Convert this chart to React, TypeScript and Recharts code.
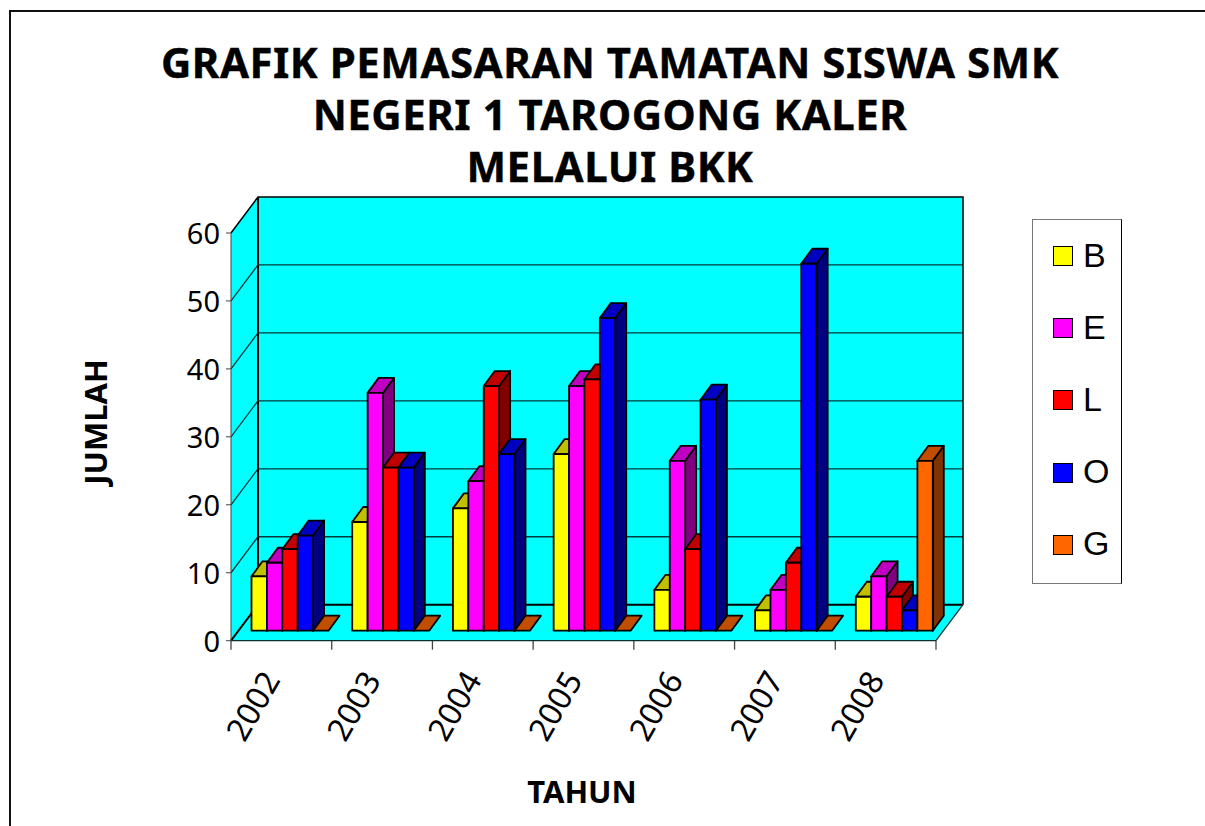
import { BarChart, Bar, XAxis, YAxis, Legend, usePlotArea } from 'recharts'

const years = ['2002', '2003', '2004', '2005', '2006', '2007', '2008']
const seriesB = [8, 16, 18, 26, 6, 3, 5]
const seriesE = [10, 35, 22, 36, 25, 6, 8]
const seriesL = [12, 24, 36, 37, 12, 10, 5]
const seriesO = [14, 24, 26, 46, 34, 54, 3]
const seriesG = [0, 0, 0, 0, 0, 0, 25]
const yTicks = [0, 10, 20, 30, 40, 50, 60]
const titleLines = ['GRAFIK PEMASARAN TAMATAN SISWA SMK', 'NEGERI 1 TAROGONG KALER', 'MELALUI BKK']

const rows = years.map((year, i) => ({
  year,
  B: seriesB[i],
  E: seriesE[i],
  L: seriesL[i],
  O: seriesO[i],
  G: seriesG[i]
}))

const tahoma = '"Noto Sans", sans-serif'
const WALL_DX = 27
const WALL_DY = 36
const BAR_DX = 11
const BAR_DY = 15
const SHIFT_X = 8.5
const SHIFT_Y = 10

const Walls = () => {
  const plot = usePlotArea()
  if (!plot) return null
  const { x, y, width, height } = plot
  const bottom = y + height
  return (
    <g>
      <polygon
        points={`${x},${y} ${x + WALL_DX},${y - WALL_DY} ${x + WALL_DX},${bottom - WALL_DY} ${x},${bottom}`}
        fill="#00ffff"
      />
      <polygon
        points={`${x},${bottom} ${x + WALL_DX},${bottom - WALL_DY} ${x + width + WALL_DX},${bottom - WALL_DY} ${x + width},${bottom}`}
        fill="#00ffff"
      />
      <rect x={x + WALL_DX} y={y - WALL_DY} width={width} height={height} fill="#00ffff" />
      {yTicks.slice(1, -1).map(t => {
        const gy = bottom - (t / 60) * height
        return (
          <polyline
            key={t}
            points={`${x},${gy} ${x + WALL_DX},${gy - WALL_DY} ${x + width + WALL_DX},${gy - WALL_DY}`}
            fill="none"
            stroke="#063a3a"
            strokeWidth={1.3}
          />
        )
      })}
      <polyline
        points={`${x},${y} ${x + WALL_DX},${y - WALL_DY} ${x + width + WALL_DX},${y - WALL_DY} ${x + width + WALL_DX},${bottom - WALL_DY}`}
        fill="none"
        stroke="#000"
        strokeWidth={1.5}
      />
      <line x1={x + WALL_DX} y1={y - WALL_DY} x2={x + WALL_DX} y2={bottom - WALL_DY} stroke="#000" strokeWidth={2} />
      <polyline
        points={`${x},${bottom} ${x + WALL_DX},${bottom - WALL_DY} ${x + width + WALL_DX},${bottom - WALL_DY}`}
        fill="none"
        stroke="#000"
        strokeWidth={2}
      />
      <line
        x1={x + width + WALL_DX}
        y1={bottom - WALL_DY}
        x2={x + width}
        y2={bottom}
        stroke="#0a3030"
        strokeWidth={1.2}
      />
      {years.concat('').map((_, i) => {
        const tx = x + (i * width) / years.length
        return <line key={i} x1={tx} y1={bottom} x2={tx} y2={bottom + 9} stroke="#444" strokeWidth={1.3} />
      })}
      {titleLines.map((line, i) => (
        <text
          key={line}
          x={610}
          y={77.5 + i * 52}
          textAnchor="middle"
          fontFamily={tahoma}
          fontWeight={700}
          fontSize={42}
          letterSpacing={0.5}
          stroke="#000"
          strokeWidth={0.4}
          fill="#000"
        >
          {line}
        </text>
      ))}
      <text x={582} y={803} textAnchor="middle" fontFamily={tahoma} fontWeight={700} fontSize={31} fill="#000">
        TAHUN
      </text>
      <text
        transform="translate(107,422) rotate(-90)"
        textAnchor="middle"
        fontFamily={tahoma}
        fontWeight={700}
        fontSize={31}
        fill="#000"
      >
        JUMLAH
      </text>
    </g>
  )
}

const Bar3D = ({ x, y, width, height, fill, top, side }: any) => {
  const left = x + SHIFT_X
  const right = left + width
  const upper = y - SHIFT_Y
  const lower = upper + height
  return (
    <g stroke="#000" strokeWidth={1.8} strokeLinejoin="round">
      {height > 0 && (
        <polygon
          points={`${right},${upper} ${right + BAR_DX},${upper - BAR_DY} ${right + BAR_DX},${lower - BAR_DY} ${right},${lower}`}
          fill={side}
        />
      )}
      <polygon
        points={`${left},${upper} ${left + BAR_DX},${upper - BAR_DY} ${right + BAR_DX},${upper - BAR_DY} ${right},${upper}`}
        fill={top}
      />
      {height > 0 && <rect x={left} y={upper} width={width} height={height} fill={fill} />}
    </g>
  )
}

const XTick = ({ x, y, payload }: any) => (
  <text
    transform={`translate(${x - 11},${y + 25}) rotate(-60)`}
    textAnchor="end"
    dominantBaseline="central"
    fontFamily={tahoma}
    fontSize={32}
    fill="#000"
  >
    {payload.value}
  </text>
)

const LegendBox = ({ payload }: any) => (
  <div
    style={{
      boxSizing: 'border-box',
      width: 90,
      height: 365,
      background: '#fff',
      borderTop: '1.5px solid #777',
      borderLeft: '1.5px solid #777',
      borderBottom: '1.5px solid #777',
      borderRight: '1.5px solid #000'
    }}
  >
    {(payload || []).map((item: any) => (
      <div key={item.value} style={{ display: 'flex', alignItems: 'center', height: 72.2, paddingLeft: 20 }}>
        <span
          style={{
            boxSizing: 'border-box',
            width: 20,
            height: 20,
            background: item.color,
            border: '1.5px solid #000'
          }}
        />
        <span
          style={{
            marginLeft: 10,
            marginTop: -2,
            fontFamily: '"Liberation Sans", sans-serif',
            fontSize: 34,
            color: '#000'
          }}
        >
          {item.value}
        </span>
      </div>
    ))}
  </div>
)

export default function App() {
  return (
    <div style={{ position: 'absolute', left: 0, top: 0, width: 1205, height: 826, overflow: 'hidden', background: '#fff' }}>
      <div
        style={{
          position: 'absolute',
          left: 9,
          top: 10,
          width: 1196,
          height: 816,
          boxSizing: 'border-box',
          borderTop: '2px solid #111',
          borderLeft: '2px solid #111'
        }}
      />
      <BarChart
        width={1205}
        height={826}
        data={rows}
        margin={{ top: 233, right: 269, bottom: 0, left: 131 }}
        barGap={0}
        barSize={15.4}
      >
        <Walls />
        <XAxis
          dataKey="year"
          height={185.3}
          axisLine={{ stroke: '#0a3030', strokeWidth: 1.3 }}
          tickLine={false}
          tick={<XTick />}
          interval={0}
        />
        <YAxis
          domain={[0, 60]}
          ticks={yTicks}
          width={100}
          tickSize={5}
          tickMargin={6}
          axisLine={{ stroke: '#444', strokeWidth: 1 }}
          tickLine={{ stroke: '#444' }}
          tick={{ fontFamily: tahoma, fontSize: 29, fill: '#000', dy: 1 }}
        />
        <Legend
          layout="vertical"
          align="center"
          verticalAlign="middle"
          itemSorter={null}
          content={<LegendBox />}
          wrapperStyle={{ left: 1032, top: 219, width: 90, height: 365 }}
        />
        <Bar dataKey="B" fill="#ffff00" isAnimationActive={false} shape={<Bar3D top="#c0c000" side="#808000" />} />
        <Bar dataKey="E" fill="#ff00ff" isAnimationActive={false} shape={<Bar3D top="#c000c0" side="#800080" />} />
        <Bar dataKey="L" fill="#ff0000" isAnimationActive={false} shape={<Bar3D top="#c00000" side="#800000" />} />
        <Bar dataKey="O" fill="#0000ff" isAnimationActive={false} shape={<Bar3D top="#0000c0" side="#000080" />} />
        <Bar dataKey="G" fill="#ff6600" isAnimationActive={false} shape={<Bar3D top="#c04d00" side="#803300" />} />
      </BarChart>
    </div>
  )
}
